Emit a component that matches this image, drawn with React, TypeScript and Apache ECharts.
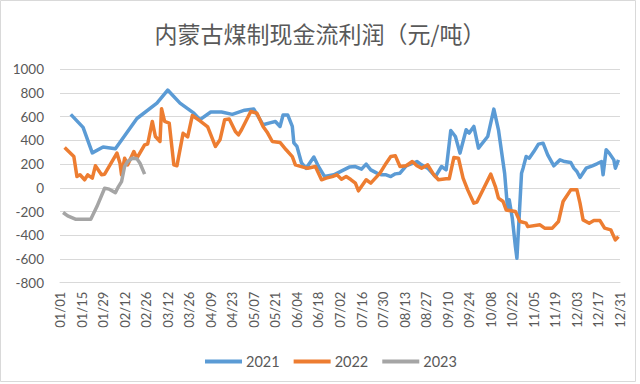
import React, { useEffect, useRef } from "react";
import * as echarts from "echarts";

const TITLE = "内蒙古煤制现金流利润（元/吨）";
const MONTH_DAYS = [31, 28, 31, 30, 31, 30, 31, 31, 30, 31, 30, 31];
const pad = (n: number) => (n < 10 ? "0" + n : "" + n);
const categories: string[] = [];
MONTH_DAYS.forEach((len, m) => {
  for (let d = 1; d <= len; d++) categories.push(pad(m + 1) + "/" + pad(d));
});

const yTicks = { min: -800, max: 1000, step: 200 };

const dates2021 = [
  "01/08", "01/16", "01/22", "01/29", "02/06", "02/20", "03/05", "03/12", "03/20", "03/29",
  "04/02", "04/09", "04/16", "04/23", "05/01", "05/07", "05/13", "05/18", "05/21", "05/24",
  "05/26", "05/29", "06/01", "06/02", "06/04", "06/07", "06/10", "06/15", "06/18", "06/22",
  "06/28", "07/08", "07/12", "07/16", "07/19", "07/22", "07/26", "07/29", "08/01", "08/04",
  "08/07", "08/10", "08/14", "08/21", "08/24", "08/28", "09/02", "09/06", "09/09", "09/12",
  "09/15", "09/18", "09/22", "09/24", "09/27", "09/30", "10/06", "10/10", "10/13", "10/17",
  "10/19", "10/20", "10/22", "10/24", "10/25", "10/28", "10/29", "10/31", "11/02", "11/05",
  "11/08", "11/11", "11/14", "11/18", "11/22", "11/25", "11/29", "12/01", "12/03", "12/05",
  "12/09", "12/13", "12/16", "12/19", "12/20", "12/22", "12/24", "12/27", "12/28", "12/30",
];
const values2021 = [
  620, 510, 295, 345, 330, 585, 715, 825, 715, 630,
  575, 640, 640, 620, 655, 665, 532, 550, 560, 518,
  615, 615, 518, 380, 350, 210, 165, 260, 180, 95,
  110, 175, 180, 158, 200, 152, 124, 110, 110, 95,
  118, 124, 186, 222, 194, 166, 95, 180, 152, 484,
  433, 293, 490, 462, 518, 335, 433, 664, 490, 124,
  -186, -100, -256, -495, -593, 124, 166, 264, 250, 306,
  369, 377, 279, 186, 236, 222, 214, 166, 138, 87,
  166, 186, 203, 222, 110, 321, 293, 236, 166, 236,
];

const dates2022 = [
  "01/04", "01/10", "01/12", "01/14", "01/17", "01/19", "01/22", "01/24", "01/28", "01/30",
  "02/07", "02/09", "02/10", "02/12", "02/14", "02/18", "02/20", "02/25", "02/27", "03/02",
  "03/04", "03/07", "03/08", "03/10", "03/13", "03/16", "03/18", "03/22", "03/25", "03/28",
  "04/02", "04/07", "04/12", "04/15", "04/18", "04/21", "04/25", "04/27", "04/29", "05/05",
  "05/09", "05/13", "05/16", "05/19", "05/24", "05/28", "06/01", "06/03", "06/08", "06/11",
  "06/16", "06/20", "06/23", "06/27", "06/30", "07/03", "07/06", "07/09", "07/12", "07/14",
  "07/19", "07/22", "07/28", "08/01", "08/04", "08/07", "08/10", "08/14", "08/18", "08/21",
  "08/24", "08/28", "09/01", "09/04", "09/09", "09/11", "09/14", "09/17", "09/20", "09/23",
  "09/27", "09/29", "10/08", "10/11", "10/13", "10/16", "10/18", "10/24", "10/27", "10/31",
  "11/01", "11/09", "11/12", "11/17", "11/21", "11/24", "11/29", "12/03", "12/05", "12/07",
  "12/11", "12/14", "12/18", "12/21", "12/25", "12/26", "12/28", "12/30",
];
const values2022 = [
  340, 265, 95, 110, 68, 110, 82, 186, 110, 115,
  293, 208, 110, 250, 194, 306, 250, 363, 370, 560,
  433, 391, 668, 560, 546, 194, 186, 460, 430, 610,
  565, 515, 349, 405, 574, 580, 475, 447, 490, 644,
  630, 518, 462, 391, 383, 321, 264, 194, 175, 166,
  180, 68, 82, 95, 110, 73, 95, 70, 40, -25,
  68, 40, 124, 208, 264, 270, 180, 186, 222, 186,
  166, 194, 110, 68, 76, 76, 256, 250, 82, -17,
  -129, -120, 116, 11, -87, -115, -186, -200, -284, -298,
  -327, -312, -340, -340, -284, -115, -17, -17, -129, -270,
  -298, -276, -276, -340, -354, -382, -439, -411,
];

const dates2023 = [
  "01/03", "01/06", "01/11", "01/21", "01/25", "01/30", "02/02", "02/06", "02/08", "02/10",
  "02/12", "02/14", "02/17", "02/20", "02/22", "02/25",
];
const values2023 = [
  -208, -236, -264, -264, -158, -3, -11, -40, 11, 53,
  180, 222, 250, 245, 208, 116,
];

const seriesNames = ["2021", "2022", "2023"];
const seriesColors = ["#5B9BD5", "#ED7D31", "#A5A5A5"];
const seriesDates = [dates2021, dates2022, dates2023];
const seriesValues = [values2021, values2022, values2023];

const FONT = "Lato, 'Noto Sans', sans-serif";
const TEXT_COLOR = "#595959";

export default function App() {
  const ref = useRef<HTMLDivElement>(null);
  useEffect(() => {
    if (!ref.current) return;
    const chart = echarts.init(ref.current, undefined, { renderer: "svg" });
    chart.setOption({
      animation: false,
      backgroundColor: "#ffffff",
      title: {
        text: TITLE,
        left: "center",
        top: 16,
        textStyle: {
          fontFamily: "'Noto Sans CJK SC', sans-serif",
          fontSize: 23,
          fontWeight: "normal",
          color: TEXT_COLOR,
        },
      },
      legend: {
        data: seriesNames,
        left: 200,
        top: 349,
        icon: "rect",
        itemWidth: 37,
        itemHeight: 4,
        itemGap: 14,
        textStyle: { fontFamily: FONT, fontSize: 14.5, color: TEXT_COLOR, padding: [0, 0, 0, -1] },
      },
      grid: { left: 60, right: 20, top: 69.3, bottom: 101.3, containLabel: false },
      xAxis: {
        type: "category",
        data: categories,
        boundaryGap: false,
        axisLine: { onZero: false, lineStyle: { color: "#D9D9D9" } },
        axisTick: { show: false },
        axisLabel: {
          interval: 13,
          rotate: 90,
          margin: 9,
          fontFamily: FONT,
          fontSize: 13,
          color: TEXT_COLOR,
        },
        splitLine: { show: false },
      },
      yAxis: {
        type: "value",
        min: yTicks.min,
        max: yTicks.max,
        interval: yTicks.step,
        axisLine: { show: false },
        axisTick: { show: false },
        axisLabel: {
          margin: 16,
          fontFamily: FONT,
          fontSize: 13.5,
          color: TEXT_COLOR,
          formatter: (v: number) => String(v),
        },
        splitLine: { lineStyle: { color: "#D9D9D9", width: 1 } },
      },
      graphic: [
        {
          type: "rect",
          shape: { x: 0.5, y: 0.5, width: 635, height: 381 },
          style: { fill: "none", stroke: "#D9D9D9", lineWidth: 1 },
          silent: true,
        },
      ],
      series: seriesNames.map((name, i) => ({
        name,
        type: "line",
        showSymbol: false,
        symbol: "none",
        color: seriesColors[i],
        lineStyle: { width: 3.5, color: seriesColors[i], join: "round" },
        data: seriesDates[i].map((d, j) => [d, seriesValues[i][j]]),
      })),
    });
    return () => chart.dispose();
  }, []);
  return (
    <div
      ref={ref}
      style={{ position: "absolute", left: 0, top: 0, width: 640, height: 384 }}
    />
  );
}
